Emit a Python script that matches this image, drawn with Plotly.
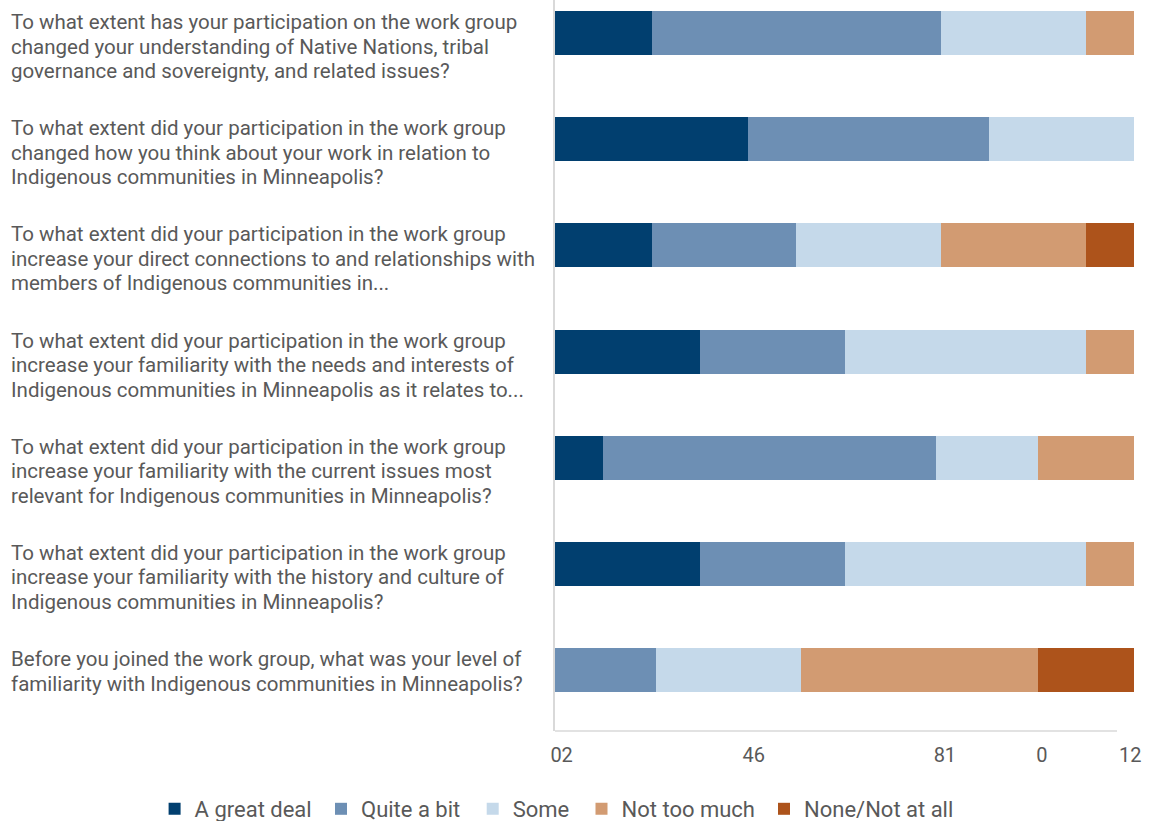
import plotly.graph_objects as go

questions = [
    "To what extent has your participation on the work group<br>changed your understanding of Native Nations, tribal<br>governance and sovereignty, and related issues?",
    "To what extent did your participation in the work group<br>changed how you think about your work in relation to<br>Indigenous communities in Minneapolis?",
    "To what extent did your participation in the work group<br>increase your direct connections to and relationships with<br>members of Indigenous communities in...",
    "To what extent did your participation in the work group<br>increase your familiarity with the needs and interests of<br>Indigenous communities in Minneapolis as it relates to...",
    "To what extent did your participation in the work group<br>increase your familiarity with the current issues most<br>relevant for Indigenous communities in Minneapolis?",
    "To what extent did your participation in the work group<br>increase your familiarity with the history and culture of<br>Indigenous communities in Minneapolis?",
    "Before you joined the work group, what was your level of<br>familiarity with Indigenous communities in Minneapolis?",
]
keys = ["Q1", "Q2", "Q3", "Q4", "Q5", "Q6", "Q7"]

series_names = ["A great deal", "Quite a bit", "Some", "Not too much", "None/Not at all"]
a_great_deal = [2, 4, 2, 3, 1, 3, 0]
quite_a_bit = [6, 5, 3, 3, 6.9, 3, 2.1]
some = [3, 3, 3, 5, 2.1, 5, 3]
not_too_much = [1, 0, 3, 1, 2, 1, 4.9]
none_at_all = [0, 0, 1, 0, 0, 0, 2]
series_values = [a_great_deal, quite_a_bit, some, not_too_much, none_at_all]
colors = ["#013f6f", "#6d8fb4", "#c5d9ea", "#d29b72", "#ad531b"]

tick_vals = [0.137, 4.12, 8.08, 10.09, 11.92]
tick_text = ["02", "46", "81", "0", "12"]

W, H = 1152, 821
PL, PR = 555, 1134          # plot area left/right in px
PB = 731                    # plot area bottom in px
PW = PR - PL

fig = go.Figure()
legend_x_px = [154.6, 321, 472.7, 581.5, 764]
for i, (name, vals, col) in enumerate(zip(series_names, series_values, colors)):
    lg = "legend" if i == 0 else f"legend{i + 1}"
    fig.add_trace(go.Bar(
        y=keys, x=vals, name=name, orientation="h",
        marker=dict(color=col, line=dict(width=0)),
        width=0.414, hoverinfo="x+name", legend=lg,
    ))

text_color = "#595959"
line_gap = 24.5
for k, q in zip(keys, questions):
    for j, line in enumerate(q.split("<br>")):
        fig.add_annotation(
            x=(9 - PL) / PW, xref="paper", xanchor="left",
            y=k, yref="y", yanchor="middle",
            yshift=11 - j * line_gap,
            text=line, showarrow=False, align="left",
            font=dict(family="Roboto", size=20.5, color=text_color),
        )

fig.add_shape(type="line", xref="paper", yref="paper",
              x0=0, x1=(1117 - PL) / PW, y0=0, y1=0,
              line=dict(color="#d9d9d9", width=1.5))

legend_style = dict(
    orientation="h", xref="container", yref="container",
    xanchor="left", yanchor="middle", y=1 - 809 / H,
    font=dict(family="Roboto", size=22, color=text_color),
    bgcolor="rgba(0,0,0,0)", itemclick=False, itemdoubleclick=False,
)
layout_legends = {}
for i, xp in enumerate(legend_x_px):
    lg = "legend" if i == 0 else f"legend{i + 1}"
    layout_legends[lg] = dict(legend_style, x=xp / W)

fig.update_layout(
    width=W, height=H,
    margin=dict(l=PL, r=W - PR, t=0, b=H - PB, autoexpand=False),
    barmode="stack",
    plot_bgcolor="white", paper_bgcolor="white",
    showlegend=True,
    xaxis=dict(
        range=[0, 12], showgrid=False, zeroline=False, showline=False,
        tickmode="array", tickvals=tick_vals, ticktext=tick_text,
        tickfont=dict(family="Roboto", size=20, color=text_color),
        ticks="", ticklabelstandoff=10,
    ),
    yaxis=dict(
        categoryorder="array", categoryarray=keys[::-1],
        range=[-0.574, 6.311], showticklabels=False,
        showgrid=False, zeroline=False,
        showline=True, linecolor="#d9d9d9", linewidth=2,
    ),
    **layout_legends,
)

fig.write_html("out.html")
